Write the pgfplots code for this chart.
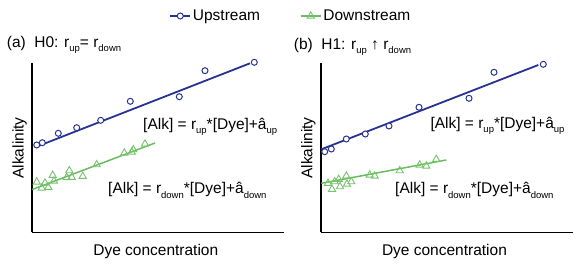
\documentclass[border=0pt]{standalone}
\usepackage{pgfplots}
\pgfplotsset{compat=1.18}
\usepackage{fontspec}
\setmainfont{Liberation Sans}
\definecolor{upblue}{RGB}{40,50,145}
\definecolor{dngreen}{RGB}{105,188,95}
\definecolor{dntri}{RGB}{120,195,110}
\newcommand{\sub}[1]{\raisebox{-4.5pt}{\fontsize{9.5}{10}\selectfont #1}}
\newcommand{\bigf}{\fontsize{15.5}{18}\selectfont}
\pgfplotsset{
  panel/.style={
    scale only axis, width=252pt, height=169pt,
    xmin=0, xmax=252, ymin=0, ymax=169,
    axis x line*=bottom, axis y line*=left,
    axis line style={line width=1.8pt, black, -},
    xtick=\empty, ytick=\empty,
    clip=false, anchor=south west,
    xlabel={Dye concentration}, ylabel={Alkalinity},
    label style={font=\bigf},
    xlabel style={at={(axis description cs:0.49,-0.139)}, anchor=base},
    ylabel style={at={(axis description cs:-0.034,0.5)}, anchor=base},
  },
  upfit/.style={upblue, line width=1.8pt, no markers},
  dnfit/.style={dngreen, line width=1.5pt, no markers},
  uppts/.style={only marks, mark=*, mark size=3pt, mark options={draw=upblue, fill=white, line width=1pt}},
  dnpts/.style={only marks, mark=triangle, mark size=4.2pt, mark options={draw=dntri, line width=0.9pt}},
}
\begin{document}
\begin{tikzpicture}
\path[use as bounding box] (0,0) rectangle (587pt,267pt);
% ---------- panel (a)
\begin{axis}[panel, at={(32.3pt,34.5pt)},
  legend columns=2,
  legend style={at={(axis description cs:1.0266,1.281)}, anchor=center, draw=none, fill=none,
    font=\bigf, /tikz/every even column/.append style={column sep=38pt}},
  legend image code/.code={\draw[mark repeat=2,mark phase=2,#1] plot coordinates {(0pt,0pt) (10pt,0pt) (20pt,0pt)};},
]
\addlegendimage{upblue, line width=1.3pt, mark=*, mark size=3pt, mark options={draw=upblue, fill=white, line width=1pt}}
\addlegendimage{dngreen, line width=1.3pt, mark=triangle, mark size=4.2pt, mark options={draw=dntri, line width=0.9pt}}
\addplot[upfit, forget plot] coordinates {(2.7,85.2) (217.7,169.2)};
\addplot[uppts, forget plot] coordinates {
(4.4,87.5) (10,89.8) (26,99.2) (44.4,104.8) (68.4,112.2) (98,131.2) (147,135.8) (172.7,161.8) (222,170.2)};
\addplot[dnfit, forget plot] coordinates {(0,43) (122.7,89.5)};
\addplot[dnpts, forget plot] coordinates {
(4.4,50.5) (9.4,44.5) (12.7,49.5) (16,45.2) (20.4,57.2) (21.7,51.5) (34.4,55) (37,61.8)
(39.4,55.2) (50.4,56.2) (64.4,67.8) (92,79.5) (99.4,80.5) (101,82.8) (112.7,88.5)};
\legend{Upstream, Downstream}
\node[anchor=base west, inner sep=0pt, font=\bigf] at (axis cs:-25.6,185) {(a)\hspace{8.5pt}H0: r\sub{up}= r\sub{down}};
\node[anchor=base west, inner sep=0pt, font=\bigf] at (axis cs:110.7,103.2) {[Alk] = r\sub{up}*[Dye]+â\sub{up}};
\node[anchor=base west, inner sep=0pt, font=\bigf] at (axis cs:75.7,38.5) {[Alk] = r\sub{down}*[Dye]+â\sub{down}};
\end{axis}
% ---------- panel (b)
\begin{axis}[panel, at={(321pt,34.5pt)}]
\addplot[upfit] coordinates {(0.3,83.2) (217.3,167.5)};
\addplot[uppts] coordinates {
(3.7,80.8) (10.3,83.5) (25.3,93.5) (44.3,98.5) (68,106.5) (98,125.2) (148,134.2) (173,160.2) (222.3,168.2)};
\addplot[dnfit] coordinates {(0.3,49.2) (125.3,72.5)};
\addplot[dnpts] coordinates {
(7,49.2) (11,43.2) (13.7,50.8) (17.7,53.2) (19,45.8) (25.3,56.5) (26,48.5) (30.3,50.8)
(48.7,57.5) (53.7,56.5) (78.7,61.8) (98.7,67.5) (105.3,66.5) (115.3,73.2)};
\node[anchor=base west, inner sep=0pt, font=\bigf] at (axis cs:-27.3,183) {(b)\hspace{8.5pt}H1: r\sub{up} ↑ r\sub{down}};
\node[anchor=base west, inner sep=0pt, font=\bigf] at (axis cs:109.3,104.2) {[Alk] = r\sub{up}*[Dye]+â\sub{up}};
\node[anchor=base west, inner sep=0pt, font=\bigf] at (axis cs:74,38.5) {[Alk] = r\sub{down}*[Dye]+â\sub{down}};
\end{axis}
\end{tikzpicture}
\end{document}
